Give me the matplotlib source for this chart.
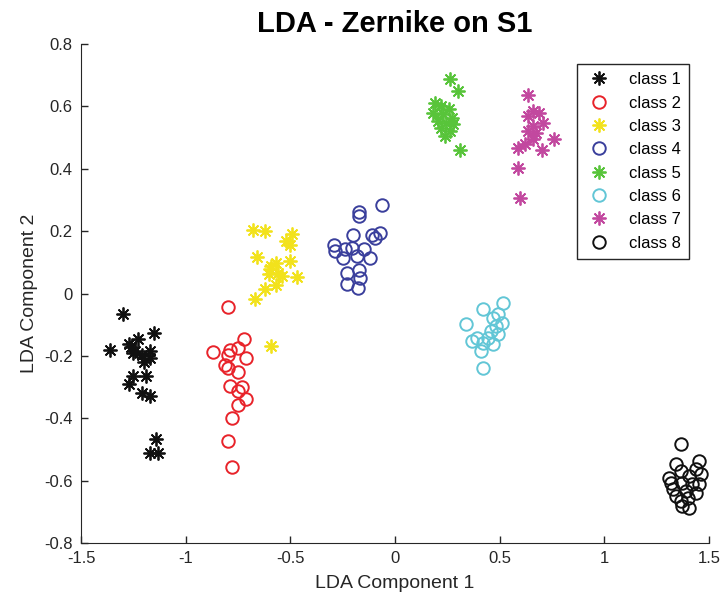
import numpy as np
import matplotlib.pyplot as plt

plt.rcParams['font.family'] = ['Liberation Sans', 'DejaVu Sans']

# LDA projections, one pair of lists per class
c1_x = [-1.30, -1.36, -1.15, -1.23, -1.26, -1.24, -1.21, -1.17, -1.17, -1.20, -1.27, -1.25,
        -1.25, -1.19, -1.27, -1.21, -1.17, -1.14, -1.17, -1.13]
c1_y = [-0.065, -0.18, -0.126, -0.147, -0.173, -0.185, -0.196, -0.185, -0.206, -0.22, -0.163,
        -0.19, -0.265, -0.265, -0.29, -0.32, -0.33, -0.465, -0.51, -0.513]

c2_x = [-0.80, -0.87, -0.72, -0.75, -0.79, -0.80, -0.71, -0.81, -0.80, -0.75, -0.79, -0.73,
        -0.75, -0.71, -0.75, -0.78, -0.80, -0.78]
c2_y = [-0.043, -0.187, -0.145, -0.174, -0.18, -0.196, -0.208, -0.228, -0.238, -0.252, -0.295,
        -0.30, -0.313, -0.338, -0.356, -0.40, -0.473, -0.555]

c3_x = [-0.68, -0.62, -0.49, -0.52, -0.50, -0.66, -0.50, -0.57, -0.595, -0.56, -0.60, -0.54,
        -0.47, -0.57, -0.62, -0.67, -0.59, -0.59]
c3_y = [0.205, 0.20, 0.192, 0.168, 0.157, 0.116, 0.104, 0.098, 0.077, 0.066, 0.061, 0.055,
        0.052, 0.026, 0.013, -0.017, -0.169, 0.087]

c4_x = [-0.063, -0.17, -0.17, -0.20, -0.11, -0.07, -0.095, -0.29, -0.286, -0.24, -0.206, -0.15,
        -0.25, -0.18, -0.12, -0.23, -0.17, -0.167, -0.23, -0.175]
c4_y = [0.285, 0.26, 0.25, 0.189, 0.189, 0.194, 0.178, 0.154, 0.136, 0.143, 0.146, 0.143,
        0.114, 0.12, 0.114, 0.066, 0.074, 0.05, 0.029, 0.018]

c5_x = [0.262, 0.30, 0.19, 0.22, 0.26, 0.18, 0.23, 0.27, 0.206, 0.246, 0.278, 0.22, 0.262,
        0.238, 0.31]
c5_y = [0.688, 0.649, 0.611, 0.60, 0.59, 0.579, 0.574, 0.563, 0.552, 0.547, 0.542, 0.531,
        0.52, 0.504, 0.46]

c6_x = [0.516, 0.42, 0.49, 0.47, 0.51, 0.484, 0.34, 0.46, 0.49, 0.39, 0.444, 0.37, 0.42,
        0.47, 0.41, 0.42]
c6_y = [-0.03, -0.051, -0.067, -0.078, -0.094, -0.105, -0.099, -0.12, -0.13, -0.142, -0.142,
        -0.153, -0.158, -0.163, -0.185, -0.24]

c7_x = [0.635, 0.66, 0.69, 0.635, 0.706, 0.66, 0.635, 0.675, 0.76, 0.66, 0.62, 0.587, 0.70,
        0.587, 0.595]
c7_y = [0.635, 0.585, 0.579, 0.569, 0.547, 0.536, 0.52, 0.515, 0.496, 0.494, 0.478, 0.467,
        0.46, 0.403, 0.307]

c8_x = [1.365, 1.34, 1.45, 1.365, 1.437, 1.31, 1.405, 1.46, 1.32, 1.37, 1.42, 1.45, 1.33,
        1.39, 1.437, 1.34, 1.40, 1.365, 1.37, 1.405]
c8_y = [-0.484, -0.548, -0.537, -0.569, -0.564, -0.59, -0.585, -0.58, -0.607, -0.607, -0.612,
        -0.612, -0.628, -0.633, -0.639, -0.65, -0.655, -0.665, -0.68, -0.687]

class_names = ['class 1', 'class 2', 'class 3', 'class 4', 'class 5', 'class 6', 'class 7', 'class 8']
xs = [c1_x, c2_x, c3_x, c4_x, c5_x, c6_x, c7_x, c8_x]
ys = [c1_y, c2_y, c3_y, c4_y, c5_y, c6_y, c7_y, c8_y]

colors = ['#111111', '#e8232a', '#f2e21c', '#3a3f9c', '#58c43a', '#62c6d6', '#c2489f', '#111111']
markers = ['ast', 'o', 'ast', 'o', 'ast', 'o', 'ast', 'o']

fig = plt.figure(figsize=(7.26, 6.1), dpi=100)
# axes box: x 81..709 px, y 44..543 px
ax = fig.add_axes([81 / 726, 1 - 543 / 610, 628 / 726, 499 / 610])

for x, y, c, m, name in zip(xs, ys, colors, markers, class_names):
    if m == 'ast':
        ax.plot(x, y, linestyle='none', marker=(8, 2, 0), markersize=10,
                markeredgewidth=1.3, color=c, label=name)
    else:
        ax.plot(x, y, linestyle='none', marker='o', markersize=9, markerfacecolor='none',
                markeredgewidth=1.4, markeredgecolor=c, label=name)

ax.set_xlim(-1.5, 1.5)
ax.set_ylim(-0.8, 0.8)
ax.set_xticks([-1.5, -1, -0.5, 0, 0.5, 1, 1.5])
ax.set_xticklabels(['-1.5', '-1', '-0.5', '0', '0.5', '1', '1.5'])
ax.set_yticks([-0.8, -0.6, -0.4, -0.2, 0, 0.2, 0.4, 0.6, 0.8])
ax.set_yticklabels(['-0.8', '-0.6', '-0.4', '-0.2', '0', '0.2', '0.4', '0.6', '0.8'])
ax.spines['top'].set_visible(False)
ax.spines['right'].set_visible(False)
ax.spines['left'].set_color('#262626')
ax.spines['bottom'].set_color('#262626')
ax.tick_params(direction='in', length=5, width=1, colors='#262626', labelsize=12, pad=6)

ax.set_title('LDA - Zernike on S1', fontsize=21, fontweight='bold', pad=9)
ax.set_xlabel('LDA Component 1', fontsize=14, color='#262626', labelpad=6)
ax.set_ylabel('LDA Component 2', fontsize=14, color='#262626', labelpad=4)

leg = ax.legend(loc='upper right', bbox_to_anchor=(0.968, 0.96), borderaxespad=0,
                fontsize=12, frameon=True, fancybox=False, edgecolor='#262626',
                framealpha=1, labelspacing=0.5, handletextpad=1.0, borderpad=0.5,
                handlelength=1.6)
leg.get_frame().set_linewidth(1.0)

fig.savefig('out.png', dpi=100)
